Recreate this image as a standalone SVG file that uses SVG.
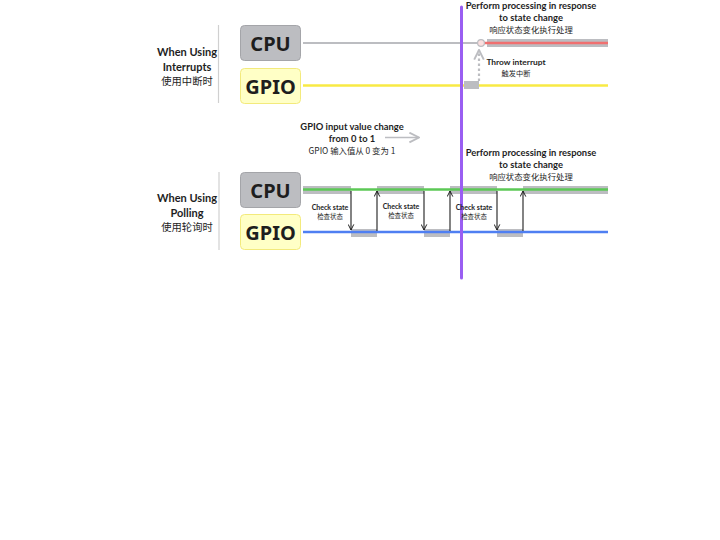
<svg xmlns="http://www.w3.org/2000/svg" width="720" height="540" viewBox="0 0 720 540">
<defs>
<style>
text{font-family:Lato,"Noto Sans","Noto Sans CJK SC",sans-serif;fill:#1e1e1e;text-anchor:middle}
.side{font-size:11px;font-weight:bold}
.sidecn{font-size:10.3px;font-family:"Noto Sans CJK SC",sans-serif}
.box{font-size:20px;font-weight:bold;font-family:"Noto Sans","Liberation Sans",sans-serif}
.cpu{fill:#bcbdc1;stroke:#a4a5a9;stroke-width:1}
.gpio{fill:#ffffc6;stroke:#f3ea7c;stroke-width:1}
.div{stroke:#d0d0d0;stroke-width:1.2}
.lbl{font-size:9.4px;font-weight:bold}
.lblcn{font-size:8.4px;font-family:"Noto Sans CJK SC",sans-serif}
.sm{font-size:8.4px;font-weight:bold}
.smcn{font-size:7.2px;font-family:"Noto Sans CJK SC",sans-serif}
.xs{font-size:7px;font-weight:bold}
.xscn{font-size:6.4px;font-family:"Noto Sans CJK SC",sans-serif}
.seg{fill:#bcbdc1}
.ar{stroke:#1e1e1e;stroke-width:1.1;fill:none}
</style>
<marker id="ah" viewBox="0 0 10 10" refX="9" refY="5" markerWidth="7" markerHeight="7" orient="auto-start-reverse" markerUnits="userSpaceOnUse">
<path d="M1,1 L9,5 L1,9" fill="none" stroke="#1e1e1e" stroke-width="1.4"/>
</marker>
<marker id="ahg" viewBox="0 0 10 10" refX="9" refY="5" markerWidth="12" markerHeight="12" orient="auto" markerUnits="userSpaceOnUse">
<path d="M1,1 L9,5 L1,9" fill="none" stroke="#bcbdc1" stroke-width="1.6"/>
</marker>
</defs>
<rect width="720" height="540" fill="#ffffff"/>

<g id="label-interrupts">
<line class="div" x1="218.5" y1="25" x2="218.5" y2="103"/>
<text class="side" x="187" y="56">When Using</text>
<text class="side" x="187" y="71">Interrupts</text>
<text class="sidecn" x="187" y="85">使用中断时</text>
</g>
<g id="cpu-interrupt">
<rect class="cpu" x="240.5" y="25.5" width="60" height="35" rx="4"/>
<text class="box" x="270.5" y="50.5">CPU</text>
</g>
<g id="gpio-interrupt">
<rect class="gpio" x="240.5" y="68.5" width="60" height="35" rx="4"/>
<text class="box" x="270.5" y="93.5">GPIO</text>
</g>

<g id="label-polling">
<line class="div" x1="219" y1="172" x2="219" y2="250"/>
<text class="side" x="187" y="202">When Using</text>
<text class="side" x="187" y="217">Polling</text>
<text class="sidecn" x="187" y="231">使用轮询时</text>
</g>
<g id="cpu-polling">
<rect class="cpu" x="240.5" y="172.5" width="60" height="35" rx="4"/>
<text class="box" x="270.5" y="197.5">CPU</text>
</g>
<g id="gpio-polling">
<rect class="gpio" x="240.5" y="214.5" width="60" height="35" rx="4"/>
<text class="box" x="270.5" y="239.5">GPIO</text>
</g>

<g id="connectors">
<line x1="303" y1="43" x2="478" y2="43" stroke="#bcbdc1" stroke-width="2.2"/>
<rect class="seg" x="487" y="39" width="121" height="8"/>
<line x1="481" y1="43" x2="608" y2="43" stroke="#f07070" stroke-width="2.4"/>
<circle cx="481" cy="43" r="3.4" fill="#fbe0e0" stroke="#bcbdc1" stroke-width="1.2"/>
<line x1="303" y1="85.5" x2="608" y2="85.5" stroke="#f8ea44" stroke-width="2.6"/>
<rect class="seg" x="464" y="81" width="15" height="8"/>
<line x1="479" y1="81" x2="479" y2="50" stroke="#bcbdc1" stroke-width="2.2" stroke-dasharray="2.5,2.5" marker-end="url(#ahg)"/>

<rect class="seg" x="303" y="186" width="48" height="8"/>
<rect class="seg" x="377" y="186" width="47" height="8"/>
<rect class="seg" x="450" y="186" width="47" height="8"/>
<rect class="seg" x="523" y="186" width="85" height="8"/>
<line x1="303" y1="189.5" x2="608" y2="189.5" stroke="#5cc856" stroke-width="2.6"/>
<rect class="seg" x="351" y="229" width="26" height="8"/>
<rect class="seg" x="424" y="229" width="26" height="8"/>
<rect class="seg" x="497" y="229" width="26" height="8"/>
<line x1="303" y1="232" x2="608" y2="232" stroke="#4f7ff2" stroke-width="2.6"/>

<line class="ar" x1="351" y1="191" x2="351" y2="230" marker-end="url(#ah)"/>
<line class="ar" x1="377" y1="231" x2="377" y2="191" marker-end="url(#ah)"/>
<line class="ar" x1="424" y1="191" x2="424" y2="230" marker-end="url(#ah)"/>
<line class="ar" x1="450" y1="231" x2="450" y2="191" marker-end="url(#ah)"/>
<line class="ar" x1="497" y1="191" x2="497" y2="230" marker-end="url(#ah)"/>
<line class="ar" x1="523" y1="231" x2="523" y2="191" marker-end="url(#ah)"/>

<line x1="385" y1="137.5" x2="419" y2="137.5" stroke="#bcbdc1" stroke-width="1.6" marker-end="url(#ahg)"/>

<line x1="461.5" y1="7" x2="461.5" y2="278" stroke="#9a5ef2" stroke-width="3" stroke-linecap="round"/>
</g>

<g id="texts">
<text class="lbl" x="531" y="9">Perform processing in response</text>
<text class="lbl" x="531" y="21">to state change</text>
<text class="lblcn" x="531" y="33">响应状态变化执行处理</text>
<text class="sm" x="516" y="65">Throw interrupt</text>
<text class="smcn" x="516" y="76">触发中断</text>
<text class="lbl" x="352" y="130">GPIO input value change</text>
<text class="lbl" x="352" y="142">from 0 to 1</text>
<text class="lblcn" x="352" y="154">GPIO 输入值从 0 变为 1</text>
<text class="lbl" x="531" y="156">Perform processing in response</text>
<text class="lbl" x="531" y="168">to state change</text>
<text class="lblcn" x="531" y="180">响应状态变化执行处理</text>
<text class="xs" x="330" y="210">Check state</text>
<text class="xscn" x="330" y="219">检查状态</text>
<text class="xs" x="401" y="209">Check state</text>
<text class="xscn" x="401" y="218">检查状态</text>
<text class="xs" x="474" y="210">Check state</text>
<text class="xscn" x="474" y="219">检查状态</text>
</g>
</svg>
